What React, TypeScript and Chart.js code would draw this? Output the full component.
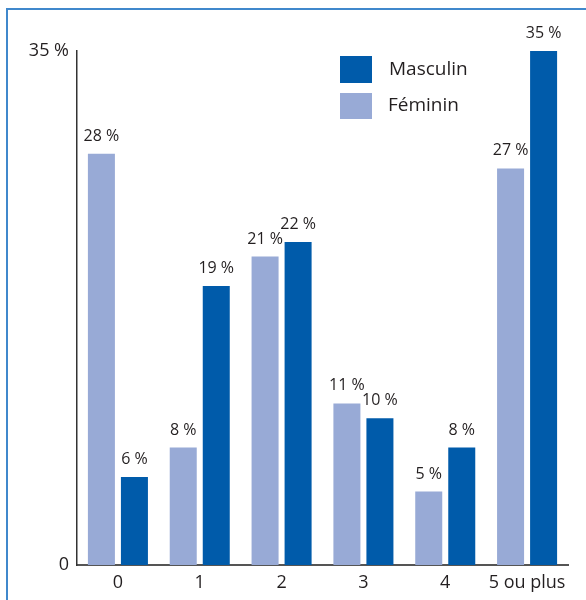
import React, { useEffect, useRef } from "react";
import { Chart, registerables } from "chart.js";

Chart.register(...registerables);

const categories = ["0", "1", "2", "3", "4", "5 ou plus"];
const feminin = [28, 8, 21, 11, 5, 27];
const masculin = [6, 19, 22, 10, 8, 35];
const yTicks = [0, 35];

const FEM_COLOR = "#98AAD6";
const MASC_COLOR = "#005BAA";
const TEXT_COLOR = "#231F20";
const FONT = "'Open Sans', sans-serif";

const framePlugin = {
  id: "frame",
  beforeDraw(chart: any) {
    const ctx = chart.ctx;
    ctx.save();
    ctx.strokeStyle = "#4088CC";
    ctx.lineWidth = 2;
    ctx.strokeRect(7, 9, 800, 800);
    ctx.restore();
  },
};

const labelPlugin = {
  id: "valueLabels",
  afterDatasetsDraw(chart: any) {
    const ctx = chart.ctx;
    ctx.save();
    ctx.font = `16px ${FONT}`;
    ctx.fillStyle = TEXT_COLOR;
    ctx.textAlign = "center";
    ctx.textBaseline = "alphabetic";
    chart.data.datasets.forEach((ds: any, i: number) => {
      const meta = chart.getDatasetMeta(i);
      meta.data.forEach((bar: any, j: number) => {
        ctx.fillText(`${ds.data[j]} %`, bar.x, bar.y - 13);
      });
    });
    ctx.restore();
  },
};

const legendPlugin = {
  id: "customLegend",
  afterDraw(chart: any) {
    const ctx = chart.ctx;
    const items = [
      { label: "Masculin", color: MASC_COLOR, y: 56, h: 27, tx: 389 },
      { label: "Féminin", color: FEM_COLOR, y: 93, h: 26, tx: 388 },
    ];
    ctx.save();
    ctx.font = `19px ${FONT}`;
    ctx.textAlign = "left";
    ctx.textBaseline = "middle";
    items.forEach((it) => {
      ctx.fillStyle = it.color;
      ctx.fillRect(340, it.y, 32, it.h);
      ctx.fillStyle = TEXT_COLOR;
      ctx.fillText(it.label, it.tx, it.y + it.h / 2);
    });
    ctx.restore();
  },
};

export default function App() {
  const ref = useRef<HTMLCanvasElement>(null);

  useEffect(() => {
    if (!ref.current) return;
    const chart = new Chart(ref.current, {
      type: "bar",
      data: {
        labels: categories,
        datasets: [
          {
            label: "Féminin",
            data: feminin,
            backgroundColor: FEM_COLOR,
            categoryPercentage: 0.807,
            barPercentage: 0.818,
          },
          {
            label: "Masculin",
            data: masculin,
            backgroundColor: MASC_COLOR,
            categoryPercentage: 0.807,
            barPercentage: 0.818,
          },
        ],
      },
      options: {
        responsive: false,
        animation: false,
        layout: { padding: { left: 0, right: 18, top: 51, bottom: 0 } },
        plugins: {
          legend: { display: false },
          tooltip: { enabled: false },
        },
        scales: {
          x: {
            grid: { display: false, drawTicks: false },
            border: { display: true, color: "#555555", width: 2 },
            ticks: {
              color: TEXT_COLOR,
              font: { family: FONT, size: 18 },
              padding: 7,
              maxRotation: 0,
              autoSkip: false,
            },
            afterFit(scale: any) {
              scale.height = 35;
            },
          },
          y: {
            min: 0,
            max: 35,
            grid: { display: false, drawTicks: false },
            border: { display: true, color: "#333333", width: 1.5 },
            ticks: {
              color: TEXT_COLOR,
              font: { family: FONT, size: 18 },
              padding: 8,
              callback: (v: any) => (Number(v) === 0 ? "0" : `${v} %`),
            },
            afterBuildTicks(scale: any) {
              scale.ticks = yTicks.map((v) => ({ value: v }));
            },
            afterFit(scale: any) {
              scale.width = 77;
            },
          },
        },
      },
      plugins: [framePlugin, labelPlugin, legendPlugin],
    });
    return () => chart.destroy();
  }, []);

  return (
    <div style={{ position: "fixed", left: 0, top: 0, width: 586, height: 600, background: "#fff" }}>
      <canvas ref={ref} width={586} height={600} style={{ display: "block" }} />
    </div>
  );
}
